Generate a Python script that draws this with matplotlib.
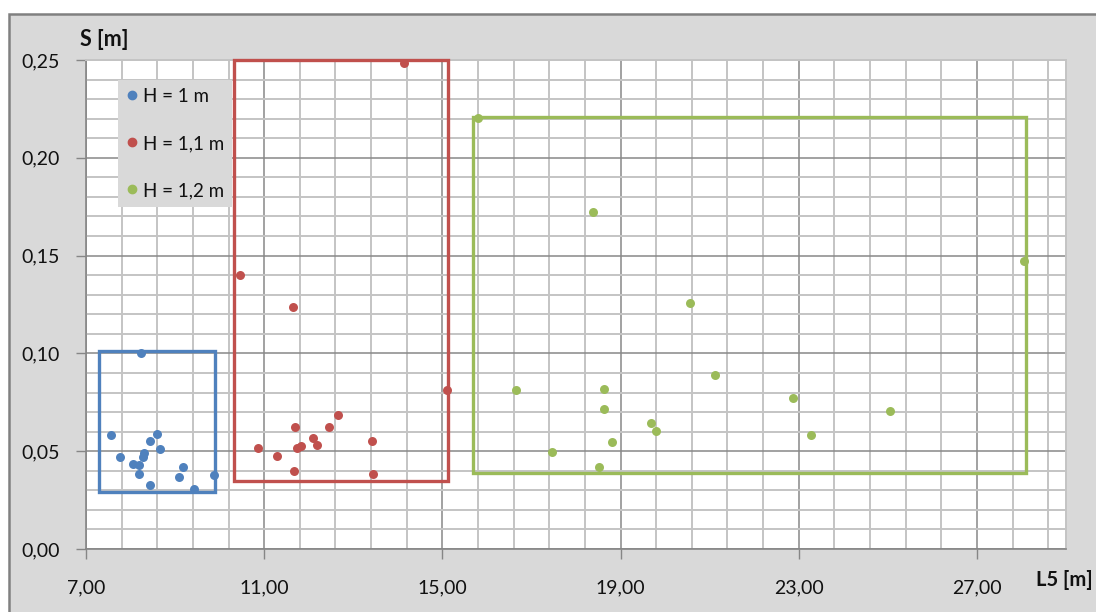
import matplotlib
matplotlib.use("Agg")
import matplotlib.pyplot as plt
from matplotlib.patches import Rectangle
from matplotlib.ticker import FuncFormatter
from matplotlib.lines import Line2D
import numpy as np

plt.rcParams['font.family'] = ['Lato', 'DejaVu Sans']

# ---- data ----
labels = ["H = 1 m", "H = 1,1 m", "H = 1,2 m"]
colors = ["#4f81bd", "#c0504d", "#9bbb59"]

blue_x = [8.23, 7.56, 7.76, 8.05, 8.20, 8.18, 8.27, 8.31, 8.44, 8.59, 8.66, 8.43, 9.17, 9.08, 9.43, 9.88]
blue_y = [0.1004, 0.0583, 0.0472, 0.0434, 0.0430, 0.0383, 0.0472, 0.0490, 0.0550, 0.0588, 0.0510, 0.0327, 0.0418, 0.0367, 0.0305, 0.0378]

red_x = [10.46, 11.65, 15.11, 12.66, 12.46, 11.69, 12.10, 12.18, 13.43, 10.86, 11.83, 11.74, 11.28, 11.67, 13.45, 14.13]
red_y = [0.140, 0.1236, 0.0813, 0.0685, 0.0622, 0.0625, 0.0566, 0.0532, 0.0554, 0.0515, 0.0528, 0.0515, 0.0475, 0.0397, 0.0383, 0.2485]

green_x = [18.38, 20.57, 21.13, 16.66, 18.62, 18.62, 19.68, 19.80, 18.80, 17.46, 18.51, 28.05, 22.88, 23.28, 25.06, 15.79]
green_y = [0.1721, 0.1256, 0.0888, 0.0813, 0.0816, 0.0717, 0.0643, 0.0603, 0.0547, 0.0494, 0.0418, 0.1474, 0.0774, 0.0583, 0.0706, 0.2203]

# bounding boxes: (x_min, x_max, y_min, y_max)
box_blue = (7.29, 9.89, 0.029, 0.101)
box_red = (10.32, 15.12, 0.035, 0.250)
box_green = (15.68, 28.10, 0.039, 0.221)

x_major = [7, 11, 15, 19, 23, 27]
y_major = [0.00, 0.05, 0.10, 0.15, 0.20, 0.25]

series = [(blue_x, blue_y), (red_x, red_y), (green_x, green_y)]
boxes = [box_blue, box_red, box_green]

# ---- figure ----
W, H = 1096, 612
fig = plt.figure(figsize=(W / 100, H / 100), dpi=100, facecolor="white")
bg = Rectangle((9 / W, -0.01), 1.1, (612 - 14) / H + 0.01, transform=fig.transFigure,
               facecolor="#d9d9d9", edgecolor="#808080", linewidth=1.8, zorder=-10)
fig.patches.append(bg)

ax = fig.add_axes([86 / W, (612 - 549) / H, (1066 - 86) / W, (549 - 60) / H])
ax.set_facecolor("white")
ax.set_xlim(7, 29)
ax.set_ylim(0, 0.25)

ax.set_xticks(x_major)
ax.set_xticks(np.arange(7, 29.01, 0.8), minor=True)
ax.set_yticks(y_major)
ax.set_yticks(np.arange(0, 0.2501, 0.01), minor=True)

fmt = FuncFormatter(lambda v, p: f"{v:.2f}".replace(".", ","))
ax.xaxis.set_major_formatter(fmt)
ax.yaxis.set_major_formatter(fmt)

ax.grid(which="minor", color="#c4c4c4", linewidth=1.4, zorder=0)
ax.grid(which="major", color="#888888", linewidth=1.1, zorder=0)
ax.set_axisbelow(True)

ax.tick_params(which="minor", length=0)
ax.tick_params(which="major", length=7, width=1, color="#868686", labelsize=14,
               labelcolor="#111111")
ax.tick_params(axis="x", which="major", pad=15)
ax.tick_params(axis="y", which="major", pad=12)

for s in ["left", "bottom"]:
    ax.spines[s].set_color("#868686")
    ax.spines[s].set_linewidth(1.2)
for s in ["top", "right"]:
    ax.spines[s].set_color("#c4c4c4")
    ax.spines[s].set_linewidth(1.4)

for (bx, by), box, c, lab in zip(series, boxes, colors, labels):
    x0, x1, y0, y1 = box
    ax.add_patch(Rectangle((x0, y0), x1 - x0, y1 - y0, fill=False, edgecolor=c,
                           linewidth=2.4, zorder=3, clip_on=False))
    ax.scatter(bx, by, s=42, color=c, zorder=4, clip_on=False, linewidths=0, label=lab)

handles = [Line2D([], [], marker="o", linestyle="", color=c, markersize=6) for c in colors]
leg = ax.legend(handles, labels, loc="upper left", bbox_to_anchor=(0.033, 0.960),
                frameon=True, fancybox=False, fontsize=13.5, labelspacing=1.6,
                handletextpad=0.25, handlelength=0.6, borderpad=0.45, borderaxespad=0)
leg.get_frame().set_facecolor("#d9d9d9")
leg.get_frame().set_edgecolor("none")
leg.get_frame().set_alpha(1)
leg.set_zorder(5)
for t in leg.get_texts():
    t.set_color("#111111")

fig.text(80 / W, 1 - 40 / H, "S [m]", fontsize=15.5, fontweight="bold", va="center", ha="left",
         color="#111111")
fig.text(1036 / W, 1 - 580 / H, "L5 [m]", fontsize=14.5, fontweight="bold", va="center", ha="left",
         color="#111111")

fig.savefig("out.png", dpi=100, facecolor="white")
